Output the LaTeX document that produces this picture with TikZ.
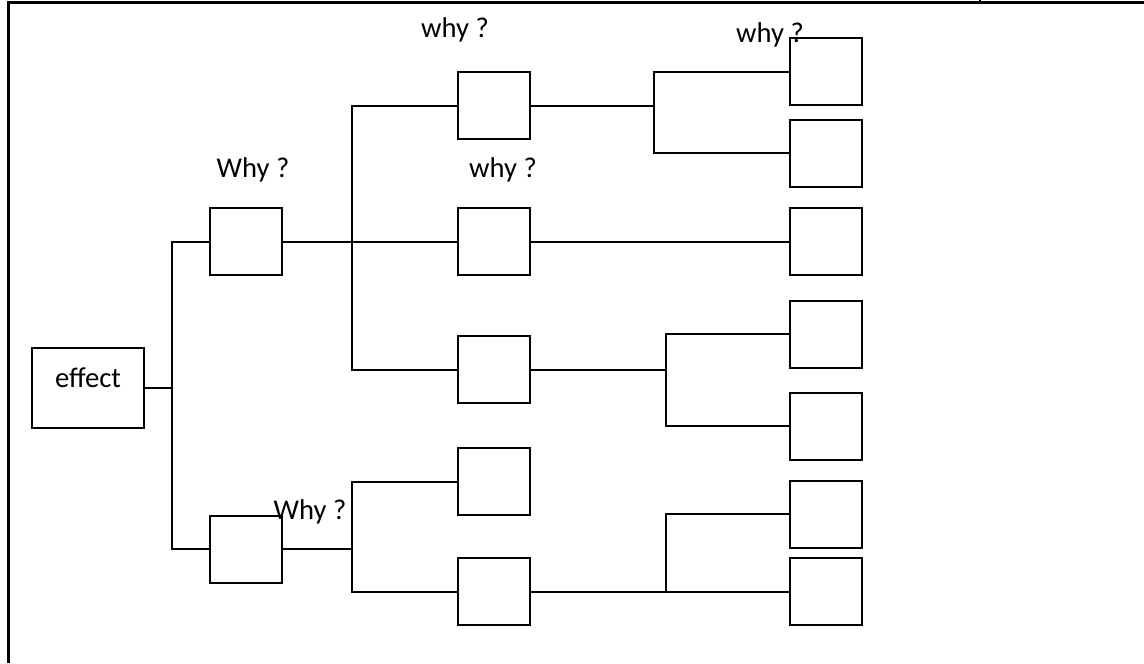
\documentclass[tikz,border=0pt]{standalone}
\usepackage{fontspec}
\setmainfont{Carlito}
\usetikzlibrary{positioning}

\begin{document}
\begin{tikzpicture}[x=0.5pt, y=-0.5pt, line width=1pt, font=\fontsize{14.3}{17}\selectfont]
    \tikzset{
        box/.style={draw, rectangle, minimum width=36pt, minimum height=33.5pt, inner sep=0pt},
        why/.style={inner sep=0pt},
        frame/.style={line width=1.5pt}
    }
    \useasboundingbox (0,0) rectangle (1144,663);

    % page frame
    \draw [frame] (8,663) -- (8,3) -- (1144,3);
    \draw [line width=0.6pt] (980,0) -- (980,3);

    % root and first level
    \node [box, minimum width=56pt, minimum height=40pt, label={[yshift=5pt]center:effect}] (effect) at (88,388) {};
    \node [box] (w1) at (245.5,241.5) {};
    \node [box] (w2) at (246,549) {};

    % second level
    \node [box] (a) at (494,106) {};
    \node [box] (b) at (494,241.5) {};
    \node [box] (c) at (494,369.5) {};
    \node [box] (d) at (494,481.5) {};
    \node [box] (e) at (494,591.5) {};

    % third level
    \node [box] (r1) at (826,72) {};
    \node [box] (r2) at (826,153.5) {};
    \node [box] (r3) at (826,241.5) {};
    \node [box] (r4) at (826,334) {};
    \node [box] (r5) at (826,426) {};
    \node [box] (r6) at (826,514) {};
    \node [box] (r7) at (826,591.5) {};

    % branch points
    \coordinate (j0) at (172,388);
    \coordinate (j1) at (352,241.5);
    \coordinate (j2) at (352,549);
    \coordinate (j3) at (654,106);
    \coordinate (j4) at (666,369.5);
    \coordinate (j5) at (666,591.5);

    \draw (effect.east) -- (j0);
    \draw (w1.west) -| (j0) |- (w2.west);

    \draw (w1.east) -- (b.west);
    \draw (a.west) -| (j1) |- (c.west);
    \draw (w2.east) -- (j2);
    \draw (d.west) -| (j2) |- (e.west);

    \draw (a.east) -- (j3);
    \draw (r1.west) -| (j3) |- (r2.west);
    \draw (b.east) -- (r3.west);
    \draw (c.east) -- (j4);
    \draw (r4.west) -| (j4) |- (r5.west);
    \draw (e.east) -- (r7.west);
    \draw (r6.west) -| (j5);

    % labels
    \node [why] (q1) at (455,30) {why ?};
    \node [why] (q2) at (770,35) {why ?};
    \node [why] (q3) at (253,170) {Why ?};
    \node [why] (q4) at (503,170) {why ?};
    \node [why] (q5) at (310,512) {Why ?};
\end{tikzpicture}
\end{document}
